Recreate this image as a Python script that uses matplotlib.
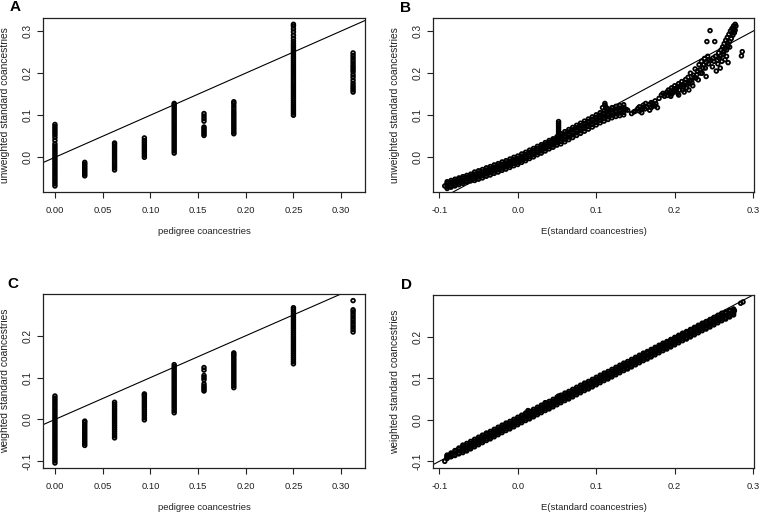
import matplotlib
matplotlib.use("Agg")
import matplotlib.pyplot as plt

plt.rcParams['font.family'] = ['Liberation Sans', 'DejaVu Sans']
plt.rcParams['axes.unicode_minus'] = False

# ---------------- data ----------------
# pedigree coancestry classes (x positions of columns, panels A and C)
ped_levels = [0.0, 0.03125, 0.0625, 0.09375, 0.125, 0.15625, 0.1875, 0.25, 0.3125]

# panel A: unweighted standard coancestries per pedigree class
A_cols = [
    [-0.068, -0.063, -0.058, -0.053, -0.048, -0.043, -0.038, -0.033, -0.028, -0.023, -0.018,
     -0.013, -0.008, -0.003, 0.002, 0.007, 0.012, 0.017, 0.022, 0.027, 0.032,
     0.040, 0.047, 0.053, 0.058, 0.063, 0.068, 0.073, 0.078],
    [-0.044, -0.040, -0.036, -0.032, -0.028, -0.024, -0.020, -0.016, -0.012],
    [-0.030, -0.025, -0.020, -0.015, -0.010, -0.005, 0.000, 0.005, 0.010, 0.015, 0.020,
     0.025, 0.030, 0.034],
    [0.000, 0.005, 0.010, 0.015, 0.020, 0.025, 0.030, 0.035, 0.040, 0.046],
    [0.010, 0.015, 0.020, 0.025, 0.030, 0.035, 0.040, 0.045, 0.050, 0.055, 0.060, 0.065,
     0.070, 0.075, 0.080, 0.085, 0.090, 0.095, 0.100, 0.105, 0.110, 0.115, 0.120, 0.125, 0.128],
    [0.052, 0.056, 0.060, 0.064, 0.068, 0.072, 0.086, 0.092, 0.098, 0.104],
    [0.056, 0.060, 0.065, 0.070, 0.075, 0.080, 0.085, 0.090, 0.095, 0.100, 0.105, 0.110,
     0.116, 0.122, 0.128, 0.132],
    [0.100, 0.105, 0.110, 0.115, 0.120, 0.125, 0.130, 0.135, 0.140, 0.145, 0.150, 0.155,
     0.160, 0.165, 0.170, 0.175, 0.180, 0.185, 0.190, 0.195, 0.200, 0.205, 0.210, 0.215,
     0.220, 0.225, 0.230, 0.235, 0.240, 0.245, 0.250, 0.255, 0.260, 0.265, 0.270,
     0.276, 0.283, 0.290, 0.298, 0.305, 0.312, 0.316],
    [0.155, 0.160, 0.165, 0.170, 0.176, 0.183, 0.190, 0.196, 0.203, 0.208, 0.213, 0.218,
     0.224, 0.230, 0.236, 0.242, 0.248],
]

# panel C: weighted standard coancestries per pedigree class
C_cols = [
    [-0.104, -0.099, -0.094, -0.089, -0.084, -0.079, -0.074, -0.069, -0.064, -0.059, -0.054,
     -0.049, -0.044, -0.039, -0.034, -0.029, -0.024, -0.019, -0.014, -0.009, -0.004, 0.001,
     0.006, 0.011, 0.016, 0.021, 0.026, 0.031, 0.036, 0.041, 0.046, 0.051, 0.056],
    [-0.062, -0.057, -0.052, -0.047, -0.042, -0.037, -0.032, -0.027, -0.022, -0.017, -0.012,
     -0.007, -0.004],
    [-0.044, -0.039, -0.034, -0.029, -0.024, -0.019, -0.014, -0.009, -0.004, 0.001, 0.006,
     0.011, 0.016, 0.021, 0.026, 0.031, 0.036, 0.041],
    [-0.001, 0.004, 0.009, 0.014, 0.019, 0.024, 0.029, 0.034, 0.039, 0.044, 0.049, 0.054,
     0.058, 0.061],
    [0.016, 0.021, 0.026, 0.031, 0.036, 0.041, 0.046, 0.051, 0.056, 0.061, 0.066, 0.071,
     0.076, 0.081, 0.086, 0.091, 0.096, 0.101, 0.106, 0.111, 0.116, 0.121, 0.126, 0.131],
    [0.068, 0.072, 0.076, 0.080, 0.085, 0.095, 0.100, 0.105, 0.118, 0.124],
    [0.076, 0.081, 0.086, 0.091, 0.096, 0.101, 0.106, 0.111, 0.116, 0.121, 0.126, 0.131,
     0.136, 0.141, 0.146, 0.151, 0.155, 0.159],
    [0.133, 0.138, 0.143, 0.148, 0.153, 0.158, 0.163, 0.168, 0.173, 0.178, 0.183, 0.188,
     0.193, 0.198, 0.203, 0.208, 0.213, 0.218, 0.223, 0.228, 0.233, 0.238, 0.243, 0.248,
     0.253, 0.258, 0.263, 0.267],
    [0.209, 0.215, 0.221, 0.227, 0.233, 0.239, 0.245, 0.251, 0.257, 0.262, 0.284],
]

# panel B: E(standard coancestries) vs unweighted standard coancestries (dense band rows)
B_x = [-0.090, -0.085, -0.080, -0.075, -0.070, -0.065, -0.060, -0.055, -0.050, -0.045,
       -0.040, -0.035, -0.030, -0.025, -0.020, -0.015, -0.010, -0.005, 0.000, 0.005,
       0.010, 0.015, 0.020, 0.025, 0.030, 0.035, 0.040, 0.045, 0.050, 0.055,
       0.060, 0.065, 0.070, 0.075, 0.080, 0.085, 0.090, 0.095, 0.100, 0.105,
       0.110, 0.115, 0.120, 0.125, 0.130, 0.135]
B_rows = [
    [-0.074, -0.071, -0.068, -0.065, -0.062, -0.059, -0.056,
     -0.055, -0.052, -0.049, -0.045, -0.042, -0.038, -0.035, -0.031, -0.028, -0.024, -0.020,
     -0.017, -0.012, -0.008, -0.003, 0.001, 0.006, 0.010, 0.015, 0.020, 0.024, 0.029,
     0.032, 0.037, 0.042, 0.047, 0.052, 0.057, 0.062, 0.067, 0.072, 0.077, 0.082, 0.086,
     0.090, 0.094, 0.097, 0.099, 0.101],
    [-0.070, -0.067, -0.064, -0.061, -0.058, -0.055, -0.052,
     -0.050, -0.047, -0.044, -0.040, -0.037, -0.033, -0.030, -0.026, -0.023, -0.019, -0.015,
     -0.012, -0.007, -0.003, 0.002, 0.006, 0.011, 0.015, 0.020, 0.025, 0.029, 0.034,
     0.038, 0.043, 0.048, 0.053, 0.058, 0.063, 0.068, 0.073, 0.078, 0.083, 0.088, 0.092,
     0.096, 0.100, 0.103, 0.105, 0.107],
    [-0.066, -0.063, -0.060, -0.057, -0.054, -0.051, -0.048,
     -0.045, -0.042, -0.039, -0.035, -0.032, -0.028, -0.025, -0.021, -0.018, -0.014, -0.010,
     -0.007, -0.002, 0.002, 0.007, 0.011, 0.016, 0.020, 0.025, 0.030, 0.034, 0.039,
     0.044, 0.049, 0.054, 0.059, 0.064, 0.069, 0.074, 0.079, 0.084, 0.089, 0.094, 0.098,
     0.102, 0.106, 0.109, 0.111, 0.113],
    [-0.062, -0.059, -0.056, -0.053, -0.050, -0.047, -0.044,
     -0.040, -0.037, -0.034, -0.030, -0.027, -0.023, -0.020, -0.016, -0.013, -0.009, -0.005,
     -0.002, 0.003, 0.007, 0.012, 0.016, 0.021, 0.025, 0.030, 0.035, 0.039, 0.044,
     0.050, 0.055, 0.060, 0.065, 0.070, 0.075, 0.080, 0.085, 0.090, 0.095, 0.100, 0.104,
     0.108, 0.112, 0.115, 0.117, 0.119],
    [-0.058, -0.055, -0.052, -0.049, -0.046, -0.043, -0.040,
     -0.035, -0.032, -0.029, -0.025, -0.022, -0.018, -0.015, -0.011, -0.008, -0.004, 0.000,
     0.003, 0.008, 0.012, 0.017, 0.021, 0.026, 0.030, 0.035, 0.040, 0.044, 0.049,
     0.056, 0.061, 0.066, 0.071, 0.076, 0.081, 0.086, 0.091, 0.096, 0.101, 0.106, 0.110,
     0.114, 0.118, 0.121, 0.123, 0.125],
]
# scattered points of panel B (spikes and upper tail)
B_sx = [-0.093, 0.052, 0.052, 0.052, 0.052, 0.052, 0.052, 0.052, 0.052,
        0.111, 0.111, 0.112, 0.108, 0.114,
        0.138, 0.140, 0.145, 0.148, 0.150, 0.153, 0.155, 0.157, 0.160, 0.160, 0.163, 0.165,
        0.167, 0.170, 0.172, 0.175, 0.176, 0.178, 0.180, 0.183, 0.185, 0.187, 0.190, 0.192,
        0.195, 0.196, 0.198, 0.200, 0.202, 0.204, 0.205, 0.207, 0.209, 0.210, 0.212, 0.214,
        0.215, 0.217, 0.218, 0.220, 0.221, 0.223, 0.224, 0.226, 0.227, 0.229, 0.230, 0.231,
        0.233, 0.234, 0.236, 0.238, 0.240, 0.240, 0.242, 0.244, 0.245, 0.241, 0.251, 0.248,
        0.250, 0.252, 0.253, 0.255, 0.256, 0.257, 0.258, 0.259, 0.260, 0.261, 0.262, 0.263,
        0.264, 0.265, 0.266, 0.267, 0.268, 0.269, 0.270, 0.271, 0.272, 0.273, 0.274, 0.275,
        0.276, 0.277, 0.277, 0.286, 0.285, 0.266, 0.268,
        0.188, 0.191, 0.194, 0.197, 0.199, 0.201, 0.203, 0.206, 0.208, 0.211, 0.213, 0.216,
        0.219, 0.222, 0.225, 0.228, 0.232, 0.235, 0.237, 0.239, 0.243, 0.246, 0.249, 0.254,
        0.258, 0.262, 0.264, 0.267, 0.270, 0.273, 0.275, 0.278, 0.155, 0.158, 0.162, 0.168,
        0.172, 0.175, 0.170, 0.195, 0.205, 0.212, 0.218]
B_sy = [-0.068, 0.050, 0.055, 0.060, 0.065, 0.070, 0.075, 0.080, 0.085,
        0.128, 0.124, 0.120, 0.118, 0.116,
        0.114, 0.112, 0.104, 0.108, 0.110, 0.116, 0.120, 0.113, 0.118, 0.124, 0.128, 0.120,
        0.125, 0.130, 0.122, 0.134, 0.127, 0.118, 0.140, 0.148, 0.152, 0.145, 0.155, 0.160,
        0.150, 0.165, 0.158, 0.170, 0.162, 0.152, 0.175, 0.168, 0.180, 0.160, 0.172, 0.185,
        0.165, 0.190, 0.176, 0.200, 0.183, 0.170, 0.195, 0.210, 0.188, 0.205, 0.184, 0.220,
        0.200, 0.228, 0.212, 0.235, 0.192, 0.225, 0.240, 0.232, 0.301, 0.275, 0.275, 0.215,
        0.228, 0.240, 0.205, 0.222, 0.248, 0.235, 0.212, 0.255, 0.228, 0.262, 0.245, 0.270,
        0.232, 0.278, 0.255, 0.285, 0.265, 0.292, 0.275, 0.300, 0.282, 0.306, 0.290, 0.312,
        0.296, 0.316, 0.302, 0.251, 0.241, 0.240, 0.225,
        0.150, 0.147, 0.156, 0.152, 0.163, 0.157, 0.166, 0.160, 0.172, 0.167, 0.178, 0.172,
        0.182, 0.177, 0.190, 0.196, 0.208, 0.200, 0.220, 0.212, 0.222, 0.230, 0.236, 0.230,
        0.240, 0.250, 0.258, 0.272, 0.262, 0.295, 0.305, 0.312, 0.110, 0.106, 0.115, 0.112,
        0.128, 0.122, 0.118, 0.145, 0.148, 0.155, 0.160]

# panel D: E(standard coancestries) vs weighted standard coancestries (dense band rows)
D_x = [-0.090, -0.085, -0.080, -0.075, -0.070, -0.065, -0.060, -0.055, -0.050, -0.045,
       -0.040, -0.035, -0.030, -0.025, -0.020, -0.015, -0.010, -0.005, 0.000, 0.005,
       0.010, 0.015, 0.020, 0.025, 0.030, 0.035, 0.040, 0.045, 0.050, 0.055,
       0.060, 0.065, 0.070, 0.075, 0.080, 0.085, 0.090, 0.095, 0.100, 0.105,
       0.110, 0.115, 0.120, 0.125, 0.130, 0.135, 0.140, 0.145, 0.150, 0.155,
       0.160, 0.165, 0.170, 0.175, 0.180, 0.185, 0.190, 0.195, 0.200, 0.205,
       0.210, 0.215, 0.220, 0.225, 0.230, 0.235, 0.240, 0.245, 0.250, 0.255,
       0.260, 0.265, 0.270, 0.275]
D_rows = [
    [-0.093, -0.089, -0.086, -0.082, -0.079, -0.075, -0.070, -0.065, -0.060, -0.055,
     -0.050, -0.046, -0.041, -0.036, -0.031, -0.026, -0.022, -0.017, -0.012, -0.007,
     -0.002, 0.002, 0.007, 0.012, 0.017, 0.022, 0.026, 0.031, 0.036, 0.041,
     0.046, 0.050, 0.055, 0.060, 0.065, 0.070, 0.074, 0.079, 0.084, 0.089,
     0.094, 0.098, 0.103, 0.108, 0.113, 0.118, 0.122, 0.127, 0.132, 0.137,
     0.142, 0.146, 0.151, 0.156, 0.161, 0.166, 0.170, 0.175, 0.180, 0.185,
     0.190, 0.194, 0.199, 0.204, 0.209, 0.214, 0.218, 0.223, 0.228, 0.233,
     0.238, 0.242, 0.247, 0.252],
    [-0.091, -0.088, -0.084, -0.080, -0.075, -0.071, -0.066, -0.061, -0.056, -0.051,
     -0.046, -0.042, -0.037, -0.032, -0.027, -0.022, -0.018, -0.013, -0.008, -0.003,
     0.002, 0.006, 0.011, 0.016, 0.021, 0.026, 0.030, 0.035, 0.040, 0.045,
     0.050, 0.054, 0.059, 0.064, 0.069, 0.074, 0.078, 0.083, 0.088, 0.093,
     0.098, 0.102, 0.107, 0.112, 0.117, 0.122, 0.126, 0.131, 0.136, 0.141,
     0.146, 0.150, 0.155, 0.160, 0.165, 0.170, 0.174, 0.179, 0.184, 0.189,
     0.194, 0.198, 0.203, 0.208, 0.213, 0.218, 0.222, 0.227, 0.232, 0.237,
     0.242, 0.246, 0.251, 0.256],
    [-0.089, -0.085, -0.080, -0.075, -0.070, -0.066, -0.061, -0.056, -0.051, -0.046,
     -0.041, -0.037, -0.032, -0.027, -0.022, -0.017, -0.013, -0.008, -0.003, 0.002,
     0.007, 0.011, 0.016, 0.021, 0.026, 0.031, 0.035, 0.040, 0.045, 0.050,
     0.055, 0.059, 0.064, 0.069, 0.074, 0.079, 0.083, 0.088, 0.093, 0.098,
     0.103, 0.107, 0.112, 0.117, 0.122, 0.127, 0.131, 0.136, 0.141, 0.146,
     0.151, 0.155, 0.160, 0.165, 0.170, 0.175, 0.179, 0.184, 0.189, 0.194,
     0.199, 0.203, 0.208, 0.213, 0.218, 0.223, 0.227, 0.232, 0.237, 0.242,
     0.247, 0.251, 0.256, 0.261],
    [-0.087, -0.082, -0.076, -0.070, -0.065, -0.061, -0.056, -0.051, -0.046, -0.041,
     -0.036, -0.032, -0.027, -0.022, -0.017, -0.012, -0.008, -0.003, 0.002, 0.007,
     0.012, 0.016, 0.021, 0.026, 0.031, 0.036, 0.040, 0.045, 0.050, 0.055,
     0.060, 0.064, 0.069, 0.074, 0.079, 0.084, 0.088, 0.093, 0.098, 0.103,
     0.108, 0.112, 0.117, 0.122, 0.127, 0.132, 0.136, 0.141, 0.146, 0.151,
     0.156, 0.160, 0.165, 0.170, 0.175, 0.180, 0.184, 0.189, 0.194, 0.199,
     0.204, 0.208, 0.213, 0.218, 0.223, 0.228, 0.232, 0.237, 0.242, 0.247,
     0.252, 0.256, 0.261, 0.266],
    [-0.085, -0.080, -0.074, -0.068, -0.061, -0.057, -0.052, -0.047, -0.042, -0.037,
     -0.032, -0.028, -0.023, -0.018, -0.013, -0.008, -0.004, 0.001, 0.006, 0.011,
     0.016, 0.020, 0.025, 0.030, 0.035, 0.040, 0.044, 0.049, 0.054, 0.059,
     0.064, 0.068, 0.073, 0.078, 0.083, 0.088, 0.092, 0.097, 0.102, 0.107,
     0.112, 0.116, 0.121, 0.126, 0.131, 0.136, 0.140, 0.145, 0.150, 0.155,
     0.160, 0.164, 0.169, 0.174, 0.179, 0.184, 0.188, 0.193, 0.198, 0.203,
     0.208, 0.212, 0.217, 0.222, 0.227, 0.232, 0.236, 0.241, 0.246, 0.251,
     0.256, 0.259, 0.263, 0.265],
]
D_sx = [-0.093, 0.013, 0.035, 0.052, 0.139, 0.147, 0.152, 0.287, 0.284, 0.276]
D_sy = [-0.100, 0.022, 0.041, 0.057, 0.131, 0.138, 0.142, 0.283, 0.280, 0.262]

# text
panel_letters = ["A", "B", "C", "D"]
x_labels = ["pedigree coancestries", "E(standard coancestries)",
            "pedigree coancestries", "E(standard coancestries)"]
y_labels = ["unweighted standard coancestries", "unweighted standard coancestries",
            "weighted standard coancestries", "weighted standard coancestries"]
ped_ticks = [0.00, 0.05, 0.10, 0.15, 0.20, 0.25, 0.30]
e_ticks = [-0.1, 0.0, 0.1, 0.2, 0.3]

# ---------------- figure ----------------
W, H = 760, 514
fig = plt.figure(figsize=(W / 100, H / 100), dpi=100)

def box(l, t, r, b):
    return [l / W, 1 - b / H, (r - l) / W, (b - t) / H]

axA = fig.add_axes(box(43, 18, 365, 192))
axB = fig.add_axes(box(433, 18, 754, 192))
axC = fig.add_axes(box(43, 294, 365, 468))
axD = fig.add_axes(box(433, 295, 754, 468))
axes = [axA, axB, axC, axD]

mk = dict(marker='o', s=7, facecolors='none', edgecolors='black', linewidths=1.3)

for ax, cols in ((axA, A_cols), (axC, C_cols)):
    for xv, ys in zip(ped_levels, cols):
        ax.scatter([xv] * len(ys), ys, **mk)

for ax, xs, rows, sx, sy in ((axB, B_x, B_rows, B_sx, B_sy),
                             (axD, D_x, D_rows, D_sx, D_sy)):
    for r in rows:
        ax.scatter(xs, r, **mk)
    ax.scatter(sx, sy, **mk)

for ax in axes:
    ax.axline((0, 0), slope=1, color='black', lw=0.8)

axA.set_xlim(-0.0125, 0.325); axA.set_ylim(-0.0824, 0.331)
axC.set_xlim(-0.0125, 0.325); axC.set_ylim(-0.116, 0.2998)
axB.set_xlim(-0.108, 0.301); axB.set_ylim(-0.0824, 0.331)
axD.set_xlim(-0.108, 0.301); axD.set_ylim(-0.116, 0.2998)

axA.set_xticks(ped_ticks); axA.set_xticklabels([f"{t:.2f}" for t in ped_ticks])
axC.set_xticks(ped_ticks); axC.set_xticklabels([f"{t:.2f}" for t in ped_ticks])
for ax in (axB, axD):
    ax.set_xticks(e_ticks); ax.set_xticklabels([f"{t:.1f}" for t in e_ticks])
for ax, yt in ((axA, [0.0, 0.1, 0.2, 0.3]), (axB, [0.0, 0.1, 0.2, 0.3]),
               (axC, [-0.1, 0.0, 0.1, 0.2]), (axD, [-0.1, 0.0, 0.1, 0.2])):
    ax.set_yticks(yt)
    ax.set_yticklabels([f"{t:.1f}" for t in yt], rotation=90, va='center')

for i, ax in enumerate(axes):
    for sp in ax.spines.values():
        sp.set_linewidth(0.9)
        sp.set_color('#222222')
    ax.tick_params(direction='out', length=4, width=0.8, colors='#222222')
    ax.tick_params(axis='x', labelsize=6.8, pad=6.3)
    ax.tick_params(axis='y', labelsize=7.3, pad=3.4)
    ax.set_xlabel(x_labels[i], fontsize=6.8, color='#222222', va='center')
    ax.set_ylabel(y_labels[i], fontsize=7.4, color='#222222', va='center')
    ax.xaxis.set_label_coords(0.5, -40 / 174)
    ax.yaxis.set_label_coords(-38 / 322, 0.5)

letter_pos = [(15, 7), (405, 8), (13, 284), (406, 285)]
for L, (px, py) in zip(panel_letters, letter_pos):
    fig.text(px / W, 1 - py / H, L, fontsize=11, fontweight='bold',
             ha='center', va='center', color='black')

fig.savefig("out.png", dpi=100)
